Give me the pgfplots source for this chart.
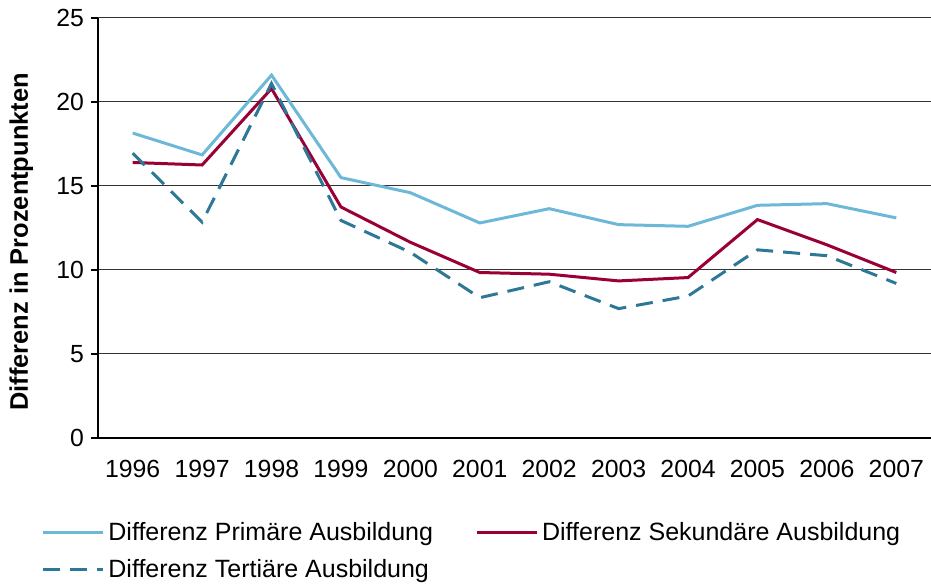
\documentclass[border=0pt]{standalone}
\usepackage{fontspec}
\setmainfont{Liberation Sans}
\usepackage{pgfplots}
\pgfplotsset{compat=1.18}
\definecolor{cPrim}{HTML}{6DB8D8}
\definecolor{cSek}{HTML}{9A0036}
\definecolor{cTer}{HTML}{2C7896}

\begin{document}
\begin{tikzpicture}
\path[use as bounding box] (-49pt,-74.5pt) rectangle (416.5pt,219pt);
\begin{axis}[
    scale only axis,
    width=416.5pt, height=210pt,
    at={(0,0)}, anchor=south west,
    xmin=-0.5, xmax=11.5,
    ymin=0, ymax=25,
    axis x line*=bottom, axis y line*=left,
    axis line style={black, line width=0.8pt},
    xtick={0,...,11},
    xticklabels={1996,1997,1998,1999,2000,2001,2002,2003,2004,2005,2006,2007},
    x tick label style={yshift=-4pt},
    major x tick style={draw=none},
    extra x ticks={-0.5,0.5,...,11.5},
    extra x tick labels={},
    extra x tick style={grid=none, tick style={black, line width=0.6pt}},
    major tick length=3.5pt,
    ytick={0,5,...,25},
    ymajorgrids,
    grid style={black!80, line width=0.5pt},
    tick align=outside,
    y tick style={black, line width=0.6pt},
    tick label style={font=\fontsize{12.4}{14}\selectfont},
    /pgf/number format/assume math mode=true,
    ylabel={\bfseries Differenz in Prozentpunkten},
    every axis y label/.style={at={(axis description cs:-0.092,0.467)}, rotate=90, anchor=center,
        font=\fontsize{12.7}{15}\selectfont},
    legend columns=2,
    legend cell align=left,
    legend style={draw=none, fill=none, at={(axis description cs:-0.0684,-0.19)}, anchor=north west,
        font=\fontsize{12.5}{14}\selectfont,
        row sep=4pt, inner sep=0pt,
        /tikz/every even column/.append style={column sep=19pt}},
    legend image code/.code={\draw[#1] (0pt,0pt) -- (30pt,0pt);},
]
\addplot[cPrim, line width=1.5pt] coordinates {
(0,18.15) (1,16.85) (2,21.6) (3,15.5) (4,14.6) (5,12.8) (6,13.65) (7,12.7) (8,12.6) (9,13.85) (10,13.95) (11,13.1)};
\addlegendentry{Differenz Primäre Ausbildung}
\addplot[cSek, line width=1.5pt] coordinates {
(0,16.4) (1,16.25) (2,20.8) (3,13.75) (4,11.65) (5,9.85) (6,9.75) (7,9.35) (8,9.55) (9,13.0) (10,11.5) (11,9.85)};
\addlegendentry{Differenz Sekundäre Ausbildung}
\addplot[cTer, line width=1.5pt, dash pattern=on 8.5pt off 5pt] coordinates {
(0,16.95) (1,12.85) (2,21.1) (3,12.95) (4,11.05) (5,8.35) (6,9.3) (7,7.7) (8,8.45) (9,11.2) (10,10.85) (11,9.2)};
\addlegendentry{Differenz Tertiäre Ausbildung}
\end{axis}
\end{tikzpicture}
\end{document}
